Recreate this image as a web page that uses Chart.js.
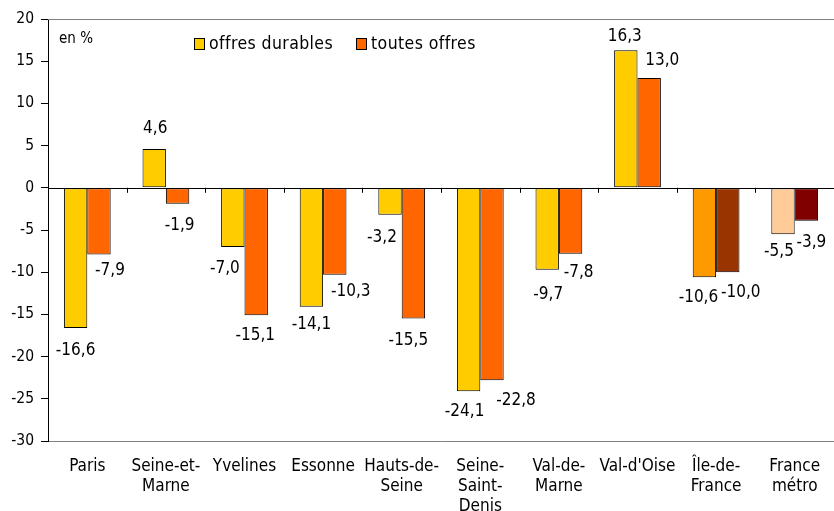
<!DOCTYPE html>
<html lang="fr">
<head>
<meta charset="UTF-8">
<title>Offres</title>
<script src="https://cdn.jsdelivr.net/npm/chart.js"></script>
<style>
  body { margin: 0; background: #fff; }
  .wrap { position: relative; width: 834px; height: 511px; overflow: hidden; font-family: "DejaVu Sans Condensed", "Liberation Sans Narrow", sans-serif; }
  .note { position: absolute; left: 59px; top: 29px; font-size: 15px; }
  .legend { position: absolute; left: 194px; top: 33px; font-size: 17.5px; letter-spacing: 0.4px; display: flex; gap: 23px; }
  .legend span { display: inline-flex; align-items: center; }
  .legend i { display: inline-block; width: 9px; height: 10px; border: 1px solid #000; margin-right: 4px; margin-top: 2px; }
</style>
</head>
<body>
<div class="wrap">
  <canvas id="chart" width="834" height="511"></canvas>
  <div class="note">en %</div>
  <div class="legend">
    <span><i style="background:#FFCC00"></i>offres durables</span>
    <span><i style="background:#FF6600"></i>toutes offres</span>
  </div>
</div>
<script>
const categories = ['Paris', ['Seine-et-', 'Marne'], 'Yvelines', 'Essonne', ['Hauts-de-', 'Seine'],
  ['Seine-', 'Saint-', 'Denis'], ['Val-de-', 'Marne'], "Val-d'Oise", ['Île-de-', 'France'], ['France', 'métro']];
const offresDurables = [-16.6, 4.6, -7.0, -14.1, -3.2, -24.1, -9.7, 16.3, -10.6, -5.5];
const toutesOffres = [-7.9, -1.9, -15.1, -10.3, -15.5, -22.8, -7.8, 13.0, -10.0, -3.9];
const yTicks = [20, 15, 10, 5, 0, -5, -10, -15, -20, -25, -30];

const colorsDurables = ['#FFCC00', '#FFCC00', '#FFCC00', '#FFCC00', '#FFCC00', '#FFCC00', '#FFCC00', '#FFCC00', '#FF9900', '#FFCC99'];
const colorsToutes = ['#FF6600', '#FF6600', '#FF6600', '#FF6600', '#FF6600', '#FF6600', '#FF6600', '#FF6600', '#993300', '#800000'];

// label nudges [dx, distance from bar end], as placed in the original
const labelNudge = [
  [[0, 23], [1, 20], [-8, 22], [0, 18], [-8, 23], [-4, 20], [1, 25], [-1, 14], [-6, 20], [-4, 17]],
  [[11, 16], [2, 22], [-1, 20], [16, 17], [-5, 22], [24, 20], [8, 19], [13, 18], [13, 20], [5, 22]]
];

const FONT = '"DejaVu Sans Condensed", "Liberation Sans Narrow", sans-serif';

// value labels, zero line, top border, category ticks on the zero line
const extras = {
  id: 'extras',
  afterDatasetsDraw(chart) {
    const ctx = chart.ctx;
    const area = chart.chartArea;
    const y = chart.scales.y;
    const y0 = y.getPixelForValue(0);
    ctx.save();
    ctx.strokeStyle = '#808080';
    ctx.lineWidth = 1;
    ctx.beginPath();
    ctx.moveTo(area.left, Math.round(area.top) + 0.5);
    ctx.lineTo(area.right, Math.round(area.top) + 0.5);
    ctx.stroke();
    ctx.strokeStyle = '#000';
    ctx.beginPath();
    ctx.moveTo(area.left, Math.round(y0) + 0.5);
    ctx.lineTo(area.right, Math.round(y0) + 0.5);
    const step = (area.right - area.left) / categories.length;
    for (let i = 1; i < categories.length; i++) {
      const px = Math.round(area.left + i * step) + 0.5;
      ctx.moveTo(px, y0);
      ctx.lineTo(px, y0 + 5);
    }
    ctx.stroke();

    ctx.font = '17px ' + FONT;
    ctx.fillStyle = '#000';
    ctx.textAlign = 'center';
    ctx.textBaseline = 'middle';
    chart.data.datasets.forEach((ds, di) => {
      chart.getDatasetMeta(di).data.forEach((bar, i) => {
        const v = ds.data[i];
        const txt = v.toFixed(1).replace('.', ',');
        const [dx, dy] = labelNudge[di][i];
        ctx.fillText(txt, bar.x + dx, v >= 0 ? bar.y - dy : bar.y + dy);
      });
    });
    ctx.restore();
  }
};

new Chart(document.getElementById('chart'), {
  type: 'bar',
  data: {
    labels: categories,
    datasets: [
      { label: 'offres durables', data: offresDurables, backgroundColor: colorsDurables, borderColor: '#000', borderWidth: 1, borderSkipped: false },
      { label: 'toutes offres', data: toutesOffres, backgroundColor: colorsToutes, borderColor: '#000', borderWidth: 1, borderSkipped: false }
    ]
  },
  options: {
    responsive: false,
    animation: false,
    layout: { padding: { top: 19, right: -4, left: 0, bottom: 0 } },
    datasets: { bar: { categoryPercentage: 0.595, barPercentage: 1.0 } },
    plugins: { legend: { display: false }, tooltip: { enabled: false } },
    scales: {
      x: {
        grid: { display: false },
        border: { color: '#808080' },
        ticks: { color: '#000', font: { size: 17, family: FONT, lineHeight: 1.2 }, padding: 7, maxRotation: 0, autoSkip: false },
        afterFit(s) { s.height = 70; }
      },
      y: {
        min: -30, max: 20,
        afterBuildTicks(s) { s.ticks = yTicks.map(v => ({ value: v })); },
        grid: { drawOnChartArea: false, tickLength: 7, color: '#000' },
        border: { color: '#000' },
        ticks: { color: '#000', font: { size: 15.5, family: FONT }, padding: 7 },
        afterFit(s) { s.width = 48; }
      }
    }
  },
  plugins: [extras]
});
</script>
</body>
</html>
